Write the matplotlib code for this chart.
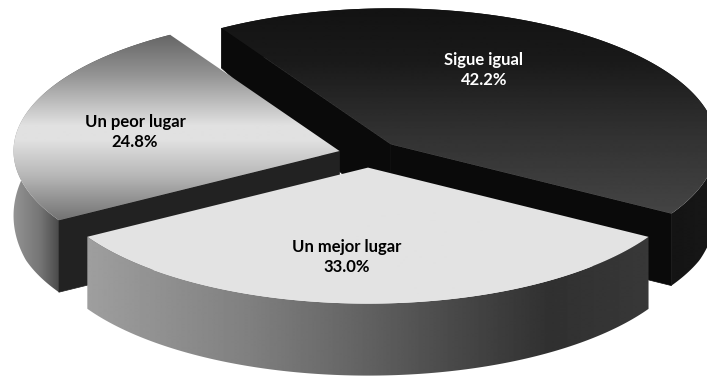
import numpy as np
import matplotlib
matplotlib.use("Agg")
import matplotlib.pyplot as plt
from matplotlib.patches import Polygon

# Chart data
categories = ["Sigue igual", "Un mejor lugar", "Un peor lugar"]
values = [42.2, 33.0, 24.8]
start_angle = 121.3

# Pie geometry (pixels)
cx, cy = 368, 154
rx, ry = 326, 136
explode = [0.1, 0.1, 0.09]
label_pos = [(484, 70), (347, 257), (135, 132)]
label_color = ["white", "black", "black"]

# grey stops (position, level), axis is the gradient direction
top_stops = [
    [(0, 0.07), (60, 0.10), (130, 0.19), (215, 0.27)],
    [(0, 0.89), (376, 0.89)],
    [(35, 0.40), (75, 0.58), (125, 0.88), (140, 0.88), (175, 0.72), (225, 0.42)],
]
side_stops = [
    [(500, 0.02), (707, 0.09)],
    [(89, 0.62), (250, 0.50), (350, 0.40), (450, 0.29), (550, 0.19), (650, 0.22)],
    [(13, 0.58), (40, 0.46), (60, 0.28)],
]
cut_color = ["#0a0a0a", "#1c1c1c", "#222222"]


def height(y):
    # side wall gets taller toward the viewer
    return np.minimum(72, 40 + 0.2 * (y - 28))


def gradient_patch(ax, pts, stops, axis, z):
    patch = Polygon(pts, closed=True, facecolor="none", edgecolor="none", zorder=z)
    ax.add_patch(patch)
    t = np.arange(0, 708 if axis == "x" else 377)
    pos, lev = zip(*stops)
    g = np.interp(t, pos, lev)
    arr = g.reshape(1, -1) if axis == "x" else g.reshape(-1, 1)
    im = ax.imshow(arr, cmap="gray", vmin=0, vmax=1, extent=(0, 707, 376, 0),
                   aspect="auto", interpolation="bilinear", zorder=z)
    im.set_clip_path(patch)


fig = plt.figure(figsize=(7.07, 3.76), dpi=100)
ax = fig.add_axes([0, 0, 1, 1])

# angles for each slice, clockwise from the start
fracs = np.array(values) / sum(values)
ends = start_angle - np.cumsum(fracs) * 360
starts = np.concatenate([[start_angle], ends[:-1]])

# back to front: dark slice, worse slice, then the front one
for n, i in enumerate([0, 2, 1]):
    z = 10 * (n + 1)
    a0, a1 = np.radians(starts[i]), np.radians(ends[i])
    mid = (a0 + a1) / 2
    ox = cx + explode[i] * rx * np.cos(mid)
    oy = cy - explode[i] * ry * np.sin(mid)
    th = np.linspace(a0, a1, 160)
    xs = ox + rx * np.cos(th)
    ys = oy - ry * np.sin(th)
    top = np.column_stack([xs, ys])

    # outer wall
    wall = np.vstack([top, np.column_stack([xs, ys + height(ys)])[::-1]])
    gradient_patch(ax, wall, side_stops[i], "x", z)

    # flat cut faces, only those turned toward the viewer
    edges = [(xs[0], ys[0], a0 + np.pi / 2), (xs[-1], ys[-1], a1 - np.pi / 2)]
    for x_e, y_e, normal in edges:
        if np.sin(normal) < 0:
            face = [(ox, oy), (x_e, y_e), (x_e, y_e + height(y_e)), (ox, oy + 72)]
            ax.add_patch(Polygon(face, closed=True, facecolor=cut_color[i],
                                 edgecolor=cut_color[i], lw=0.5, zorder=z + 1))

    # top surface
    surface = np.vstack([[(ox, oy)], top])
    gradient_patch(ax, surface, top_stops[i], "y", z + 2)

    ax.text(label_pos[i][0], label_pos[i][1], f"{categories[i]}\n{values[i]:.1f}%",
            ha="center", va="center", fontsize=12, fontweight="bold",
            color=label_color[i], family="Lato", linespacing=1.3, zorder=50)

ax.set_xlim(0, 707)
ax.set_ylim(376, 0)
ax.axis("off")

fig.savefig("out.png", dpi=100, facecolor="white")
